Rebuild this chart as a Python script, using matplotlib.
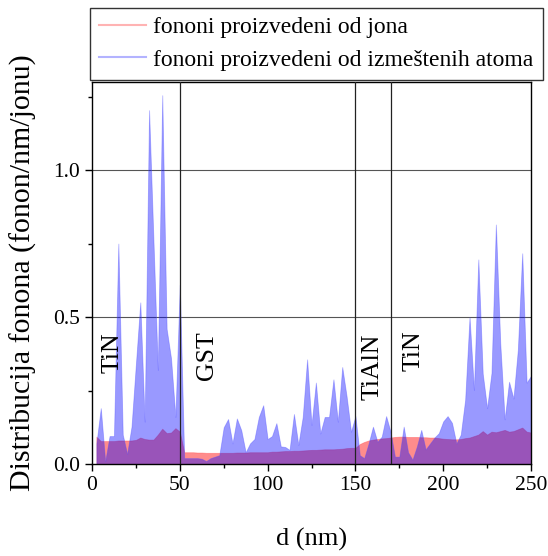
import numpy as np
import matplotlib
matplotlib.use("Agg")
import matplotlib.pyplot as plt
from matplotlib.ticker import MultipleLocator

# depth grid (nm)
d = np.arange(2.5, 250.01, 2.5)

# phonons produced by displaced atoms (blue)
blue = [
    0.07, 0.19, 0.01, 0.095, 0.095, 0.75, 0.10, 0.035, 0.127, 0.34,
    0.55, 0.144, 1.204, 0.76, 0.32, 1.255, 0.46, 0.36, 0.16, 0.61,
    0.02, 0.02, 0.02, 0.02, 0.018, 0.01, 0.02, 0.025, 0.03, 0.125,
    0.153, 0.07, 0.155, 0.115, 0.04, 0.07, 0.085, 0.16, 0.20, 0.085,
    0.095, 0.139, 0.06, 0.058, 0.048, 0.17, 0.065, 0.16, 0.356, 0.133,
    0.277, 0.104, 0.16, 0.16, 0.288, 0.144, 0.33, 0.23, 0.11, 0.163,
    0.03, 0.02, 0.07, 0.127, 0.076, 0.093, 0.163, 0.11, 0.025, 0.025,
    0.127, 0.04, 0.015, 0.06, 0.116, 0.05, 0.07, 0.09, 0.105, 0.145,
    0.163, 0.14, 0.07, 0.10, 0.218, 0.50, 0.252, 0.696, 0.308, 0.19,
    0.31, 0.815, 0.41, 0.152, 0.28, 0.223, 0.388, 0.717, 0.277, 0.30,
]

# phonons produced by ions (red)
red = [
    0.093, 0.078, 0.078, 0.078, 0.078, 0.08, 0.08, 0.08, 0.08, 0.082,
    0.09, 0.085, 0.083, 0.083, 0.10, 0.12, 0.105, 0.107, 0.122, 0.11,
    0.04, 0.04, 0.04, 0.039, 0.039, 0.038, 0.038, 0.038, 0.038, 0.038,
    0.038, 0.038, 0.039, 0.039, 0.039, 0.04, 0.04, 0.04, 0.04, 0.04,
    0.042, 0.042, 0.043, 0.044, 0.044, 0.045, 0.045, 0.046, 0.047, 0.048,
    0.048, 0.049, 0.05, 0.05, 0.05, 0.051, 0.052, 0.054, 0.055, 0.055,
    0.068, 0.075, 0.08, 0.083, 0.085, 0.087, 0.088, 0.09, 0.092, 0.093,
    0.093, 0.092, 0.092, 0.092, 0.091, 0.091, 0.09, 0.09, 0.088, 0.086,
    0.085, 0.084, 0.084, 0.085, 0.088, 0.09, 0.095, 0.10, 0.112, 0.10,
    0.11, 0.108, 0.112, 0.116, 0.11, 0.112, 0.118, 0.124, 0.11, 0.107,
]

boundaries = [50, 150, 170]
layer_labels = ["TiN", "GST", "TiAlN", "TiN"]
layer_x = [11.5, 65.5, 160, 183]
layer_y = [0.38, 0.37, 0.33, 0.385]

legend_labels = ["fononi proizvedeni od jona", "fononi proizvedeni od izmeštenih atoma"]

plt.rcParams['font.family'] = ['Liberation Serif', 'DejaVu Serif']

fig = plt.figure(figsize=(5.48, 5.56), dpi=100)
ax = fig.add_axes([92/548, 92/556, (531-92)/548, (464-82)/556])

ax.fill_between(d, 0, red, color=(1.0, 0.0, 0.0), alpha=0.45, linewidth=0.6,
                edgecolor=(1.0, 0.3, 0.3))
ax.fill_between(d, 0, blue, color=(0.0, 0.0, 1.0), alpha=0.40, linewidth=0.6,
                edgecolor=(0.3, 0.3, 1.0))

for b in boundaries:
    ax.axvline(b, color='#222222', linewidth=0.9, zorder=3)
for yv in [0.5, 1.0]:
    ax.axhline(yv, color='#555555', linewidth=0.8, zorder=0.5)

for lab, xx, yy in zip(layer_labels, layer_x, layer_y):
    ax.text(xx, yy, lab, rotation=90, fontsize=18.5, ha='center', va='center')

ax.set_xlim(0, 250)
ax.set_ylim(0, 1.3)
ax.xaxis.set_major_locator(MultipleLocator(50))
ax.xaxis.set_minor_locator(MultipleLocator(25))
ax.yaxis.set_major_locator(MultipleLocator(0.5))
ax.yaxis.set_minor_locator(MultipleLocator(0.25))
ax.yaxis.set_major_formatter(matplotlib.ticker.FormatStrFormatter('%.1f'))
ax.tick_params(which='major', direction='out', length=5, width=1, labelsize=15.5)
ax.tick_params(which='minor', direction='out', length=3, width=1)
for s in ax.spines.values():
    s.set_linewidth(1.0)

ax.set_xlabel("d (nm)", fontsize=19, labelpad=24)
ax.set_ylabel("Distribucija fonona (fonon/nm/jonu)", fontsize=21.5, labelpad=12)

h1 = plt.Line2D([], [], color=(1.0, 0.7, 0.7), lw=1.5)
h2 = plt.Line2D([], [], color=(0.7, 0.7, 1.0), lw=1.5)
leg = fig.legend([h1, h2], legend_labels, loc='upper left',
                 bbox_to_anchor=(90/548, 1 - 8/556), fontsize=17,
                 frameon=True, fancybox=False, edgecolor='#333333',
                 framealpha=1.0,
                 handlelength=2.0, handletextpad=0.3, labelspacing=0.45,
                 borderpad=0.38, borderaxespad=0)
leg.get_frame().set_linewidth(1.0)
leg.set_zorder(10)

fig.savefig("out.png", dpi=100)
